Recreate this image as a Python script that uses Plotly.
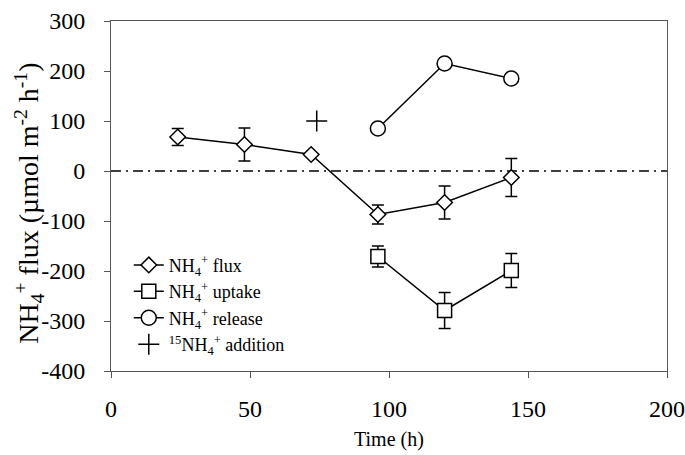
import plotly.graph_objects as go

# Data
flux_t = [24, 48, 72, 96, 120, 144]
flux_v = [68, 53, 33, -87, -63, -13]
flux_e = [17, 33, 0, 19, 33, 38]

uptake_t = [96, 120, 144]
uptake_v = [-171, -279, -199]
uptake_e = [21, 36, 34]

release_t = [96, 120, 144]
release_v = [85, 215, 185]

addition_t = [74]
addition_v = [100]

x_ticks = [0, 50, 100, 150, 200]
y_ticks = [-400, -300, -200, -100, 0, 100, 200, 300]
y_tick_text = ["-400", "-300", "-200", "-100", "0", "100", "200", "300"]

FONT = "Liberation Serif"
BLACK = "#000000"

fig = go.Figure()

fig.add_trace(go.Scatter(
    x=flux_t, y=flux_v, mode="lines+markers",
    name="NH<sub>4</sub><sup>+</sup> flux",
    line=dict(color=BLACK, width=1.5),
    marker=dict(symbol="diamond", size=12, color="white", line=dict(color=BLACK, width=1.5)),
    error_y=dict(type="data", array=flux_e, visible=True, color=BLACK, thickness=1.5, width=6),
))
fig.add_trace(go.Scatter(
    x=uptake_t, y=uptake_v, mode="lines+markers",
    name="NH<sub>4</sub><sup>+</sup> uptake",
    line=dict(color=BLACK, width=1.5),
    marker=dict(symbol="square", size=14, color="white", line=dict(color=BLACK, width=1.5)),
    error_y=dict(type="data", array=uptake_e, visible=True, color=BLACK, thickness=1.5, width=6),
))
fig.add_trace(go.Scatter(
    x=release_t, y=release_v, mode="lines+markers",
    name="NH<sub>4</sub><sup>+</sup> release",
    line=dict(color=BLACK, width=1.5),
    marker=dict(symbol="circle", size=15, color="white", line=dict(color=BLACK, width=1.5)),
))
fig.add_trace(go.Scatter(
    x=addition_t, y=addition_v, mode="markers",
    name="<sup>15</sup>NH<sub>4</sub><sup>+</sup> addition",
    marker=dict(symbol="cross-thin-open", size=15, color=BLACK, line=dict(color=BLACK, width=1.5)),
))

# zero reference line (dash-dot)
fig.add_shape(type="line", xref="x", yref="y", x0=x_ticks[0], x1=x_ticks[-1], y0=0, y1=0,
              line=dict(color=BLACK, width=1.5, dash="10px,5px,2px,5px"), layer="below")

axis_common = dict(
    showline=True, linecolor="#555555", linewidth=1, mirror=True,
    ticks="outside", ticklen=6, tickcolor="#555555", tickwidth=1,
    showgrid=False, zeroline=False, automargin=False,
    tickfont=dict(family=FONT, size=24, color=BLACK),
)

fig.update_xaxes(range=[0, 200], tickvals=x_ticks, ticklabelstandoff=10, **axis_common)
fig.update_yaxes(range=[-400, 300], tickvals=y_ticks, ticktext=y_tick_text,
                 ticklabelstandoff=14, **axis_common)

fig.add_annotation(text="NH<sub>4</sub><sup>+</sup> flux (µmol m<sup>-2</sup> h<sup>-1</sup>)",
                   xref="paper", yref="paper", x=-0.148, y=0.48, textangle=-90,
                   showarrow=False, xanchor="center", yanchor="middle",
                   font=dict(family=FONT, size=28, color=BLACK))
fig.add_annotation(text="Time (h)", xref="paper", yref="paper", x=0.5, y=-0.197,
                   showarrow=False, xanchor="center", yanchor="middle",
                   font=dict(family=FONT, size=20, color=BLACK))

fig.update_layout(
    width=685, height=455,
    margin=dict(l=111, r=18, t=21, b=84),
    paper_bgcolor="white", plot_bgcolor="white",
    font=dict(family=FONT, color=BLACK),
    showlegend=True,
    legend=dict(x=0.032, y=0.355, xanchor="left", yanchor="top",
                bgcolor="rgba(0,0,0,0)", font=dict(family=FONT, size=18, color=BLACK),
                tracegroupgap=0, itemwidth=30),
)

fig.write_html("out.html", config={"displayModeBar": False},
               post_script="document.body.style.margin='0';document.body.style.overflow='hidden';")
